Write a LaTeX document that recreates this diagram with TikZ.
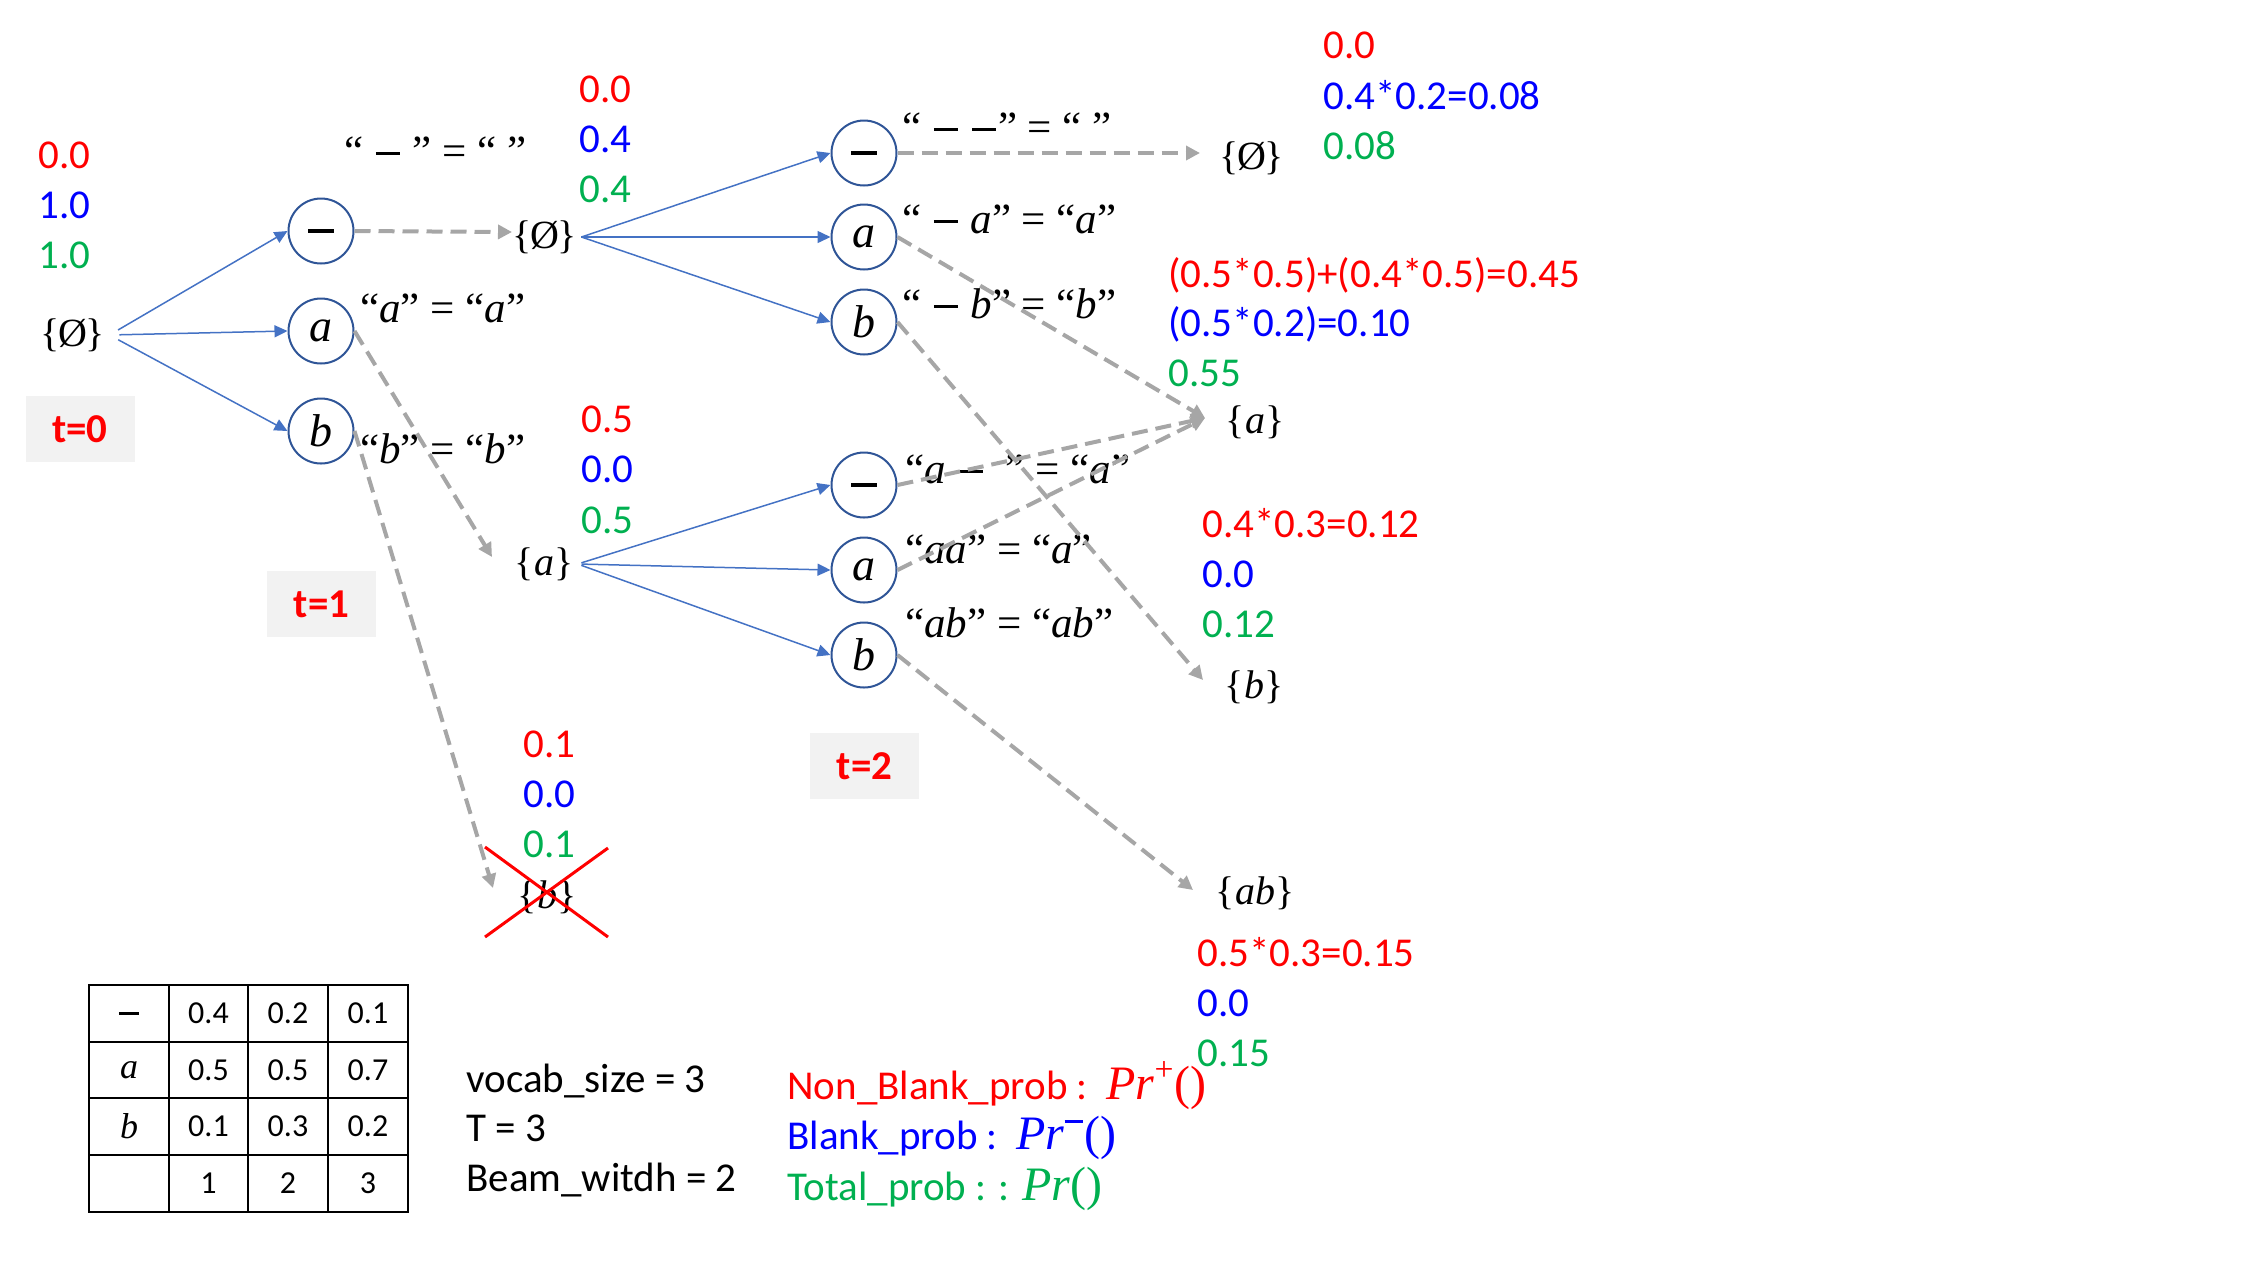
\documentclass[tikz,border=0pt]{standalone}
\usepackage{fontspec}
\newfontfamily\calib{Carlito}
\newfontfamily\tms{Liberation Serif}
\usetikzlibrary{arrows.meta}
\definecolor{cred}{HTML}{FF0000}
\definecolor{cblue}{HTML}{0000FF}
\definecolor{cgreen}{HTML}{00B050}
\definecolor{edgeblue}{HTML}{4472C4}
\definecolor{circblue}{HTML}{2F5597}
\definecolor{dgray}{HTML}{A6A6A6}
\definecolor{boxgray}{HTML}{F2F2F2}
\newcommand{\mi}[1]{\textit{#1}}
% minus sign drawn as a rule: in a line of text (raised) and alone (centred)
\newcommand{\mnl}{\kern0.04em\rule[0.24em]{0.56em}{0.06em}\kern0.04em}
\newcommand{\mnc}{\rule{0.56em}{0.07em}}
\newcommand{\emset}{\{\kern-0.04em Ø\kern-0.04em\}}
\tikzset{
 sym/.style={circle, draw=circblue, line width=1pt, minimum size=32.5pt, inner sep=0pt, font=\tms\fontsize{23}{26}\selectfont},
 setn/.style={inner xsep=2pt, inner ysep=1pt, font=\tms\fontsize{20}{23}\selectfont},
 lab/.style={anchor=base west, inner sep=0pt, font=\tms\fontsize{21.5}{25}\selectfont},
 num/.style={anchor=base west, inner sep=0pt, font=\calib\fontsize{20.5}{25}\selectfont},
 tbox/.style={fill=boxgray, minimum width=54.5pt, minimum height=33pt, text=cred, font=\calib\bfseries\fontsize{20.5}{25}\selectfont},
 bedge/.style={draw=edgeblue, line width=0.75pt, -{Triangle[length=6.5pt,width=6pt]}},
 dedge/.style={draw=dgray, line width=2pt, dash pattern=on 8pt off 4pt, -{Triangle[length=7pt,width=7pt]}},
 tcell/.style={font=\calib\fontsize{16}{19}\selectfont, inner sep=0pt},
 thead/.style={font=\tms\fontsize{18}{21}\selectfont, inner sep=0pt},
 tline/.style={line width=1pt},
 leg/.style={anchor=base west, inner sep=0pt, font=\calib\fontsize{20.5}{25}\selectfont},
}
\newcommand{\prf}[1]{{\tms\fontsize{24}{26}\selectfont\textit{Pr}#1()}}
\begin{document}
\begin{tikzpicture}[x=0.5pt,y=-0.5pt]
\useasboundingbox (0,0) rectangle (2249,1265);

% ---------- t = 0 ----------
\node[num, text=cred]   (n0r) at (38,168.5) {0.0};
\node[num, text=cblue]  (n0b) at (38,218.5) {1.0};
\node[num, text=cgreen] (n0g) at (38,268.5) {1.0};
\node[setn] (r0) at (73,335) {\emset};
\node[tbox] (t0) at (80,429) {t=0};

% ---------- t = 1 ----------
\node[sym] (c1m) at (321,231) {\mnc};
\node[sym] (c1a) at (321,331) {\mi{a}};
\node[sym] (c1b) at (321,431) {\mi{b}};
\node[lab] (L1m) at (344,165) {“ \mnl\ ” = “ ”};
\node[lab] (L1a) at (360,322) {“\mi{a}” = “\mi{a}”};
\node[lab] (L1b) at (360,463) {“\mi{b}” = “\mi{b}”};
\node[tbox] (t1) at (321.5,604) {t=1};

\node[setn] (s1e) at (545,237) {\emset};
\node[num, text=cred]   (n1r) at (579,102.5) {0.0};
\node[num, text=cblue]  (n1b) at (579,152.5) {0.4};
\node[num, text=cgreen] (n1g) at (579,202.5) {0.4};

\node[setn] (s1a) at (544,564) {\{\mi{a}\}};
\node[num, text=cred]   (n2r) at (581,432.5) {0.5};
\node[num, text=cblue]  (n2b) at (581,482.5) {0.0};
\node[num, text=cgreen] (n2g) at (581,533.5) {0.5};

\node[setn] (s1b) at (547,897) {\{\mi{b}\}};
\node[num, text=cred]   (n3r) at (523,757.5) {0.1};
\node[num, text=cblue]  (n3b) at (523,807.5) {0.0};
\node[num, text=cgreen] (n3g) at (523,857.5) {0.1};
\draw[cred, line width=1.5pt] (485,847) -- (608,937) (608,848) -- (485,937);

% ---------- t = 2 ----------
\node[sym] (c2m) at (864,153) {\mnc};
\node[sym] (c2a) at (864,237) {\mi{a}};
\node[sym] (c2b) at (864,322) {\mi{b}};
\node[sym] (c2m2) at (864,485) {\mnc};
\node[sym] (c2a2) at (864,570) {\mi{a}};
\node[sym] (c2b2) at (864,655) {\mi{b}};
\node[lab] (L2m) at (902,141) {“ \mnl\ \mnl” = “ ”};
\node[lab] (L2a) at (902,233) {“ \mnl\ \mi{a}” = “\mi{a}”};
\node[lab] (L2b) at (902,318) {“ \mnl\ \mi{b}” = “\mi{b}”};
\node[lab] (L2m2) at (905,483) {“\mi{a} \mnl\ \ ” = “\mi{a}”};
\node[lab] (L2a2) at (905,563) {“\mi{aa}” = “\mi{a}”};
\node[lab] (L2b2) at (905,637) {“\mi{ab}” = “\mi{ab}”};
\node[tbox] (t2) at (864.5,766) {t=2};

\node[setn] (s2e) at (1252,158) {\emset};
\node[num, text=cred]   (m1r) at (1323,58.5) {0.0};
\node[num, text=cblue]  (m1b) at (1323,109) {0.4*0.2=0.08};
\node[num, text=cgreen] (m1g) at (1323,159.5) {0.08};

\node[setn] (s2a) at (1255,422) {\{\mi{a}\}};
\node[num, text=cred]   (m2r) at (1168,287) {(0.5*0.5)+(0.4*0.5)=0.45};
\node[num, text=cblue]  (m2b) at (1168,336) {(0.5*0.2)=0.10};
\node[num, text=cgreen] (m2g) at (1168,386) {0.55};

\node[setn] (s2b) at (1254,687) {\{\mi{b}\}};
\node[num, text=cred]   (m3r) at (1202,537) {0.4*0.3=0.12};
\node[num, text=cblue]  (m3b) at (1202,587) {0.0};
\node[num, text=cgreen] (m3g) at (1202,637) {0.12};

\node[setn] (s2ab) at (1255,893) {\{\mi{ab}\}};
\node[num, text=cred]   (m4r) at (1197,966) {0.5*0.3=0.15};
\node[num, text=cblue]  (m4b) at (1197,1016) {0.0};
\node[num, text=cgreen] (m4g) at (1197,1066) {0.15};

% ---------- blue edges ----------
\draw[bedge, shorten <=5pt] (r0.east) -- (c1m.west);
\draw[bedge, shorten <=5pt] (r0.east) -- (c1a.west);
\draw[bedge, shorten <=5pt] (r0.east) -- (c1b.west);
\draw[bedge] (s1e.east) -- (c2m.west);
\draw[bedge] (s1e.east) -- (c2a.west);
\draw[bedge] (s1e.east) -- (c2b.west);
\draw[bedge, shorten <=2pt] (s1a.east) -- (c2m2.west);
\draw[bedge, shorten <=2pt] (s1a.east) -- (c2a2.west);
\draw[bedge, shorten <=2pt] (s1a.east) -- (c2b2.west);

% ---------- dashed edges ----------
\draw[dedge] (c1m.east) -- ([xshift=-16.5pt,yshift=2.5pt]s1e.center);
\draw[dedge] (c1a.east) -- ([xshift=-26pt,yshift=3.5pt]s1a.center);
\draw[dedge] (c1b.east) -- ([xshift=-27pt,yshift=4.5pt]s1b.center);
\draw[dedge] (c2m.east) -- ([xshift=-26pt,yshift=2.5pt]s2e.center);
\draw[dedge] (c2a.east) -- ([xshift=-25pt,yshift=2pt]s2a.center);
\draw[dedge] (c2m2.east) -- ([xshift=-25pt,yshift=2pt]s2a.center);
\draw[dedge] (c2a2.east) -- ([xshift=-25pt,yshift=2pt]s2a.center);
\draw[dedge] (c2b.east) -- ([xshift=-25.5pt,yshift=3.5pt]s2b.center);
\draw[dedge] (c2b2.east) -- ([xshift=-31pt,yshift=1.5pt]s2ab.center);

% ---------- table ----------
\draw[tline] (89,985) rectangle (408,1212);
\foreach \xx in {169,248,328} \draw[tline] (\xx,985) -- (\xx,1212);
\foreach \yy in {1042,1098,1155} \draw[tline] (89,\yy) -- (408,\yy);
\node[thead] (k00) at (129,1013.5) {\mnc};
\node[tcell] (k01) at (208.5,1013.5) {0.4};
\node[tcell] (k02) at (288,1013.5) {0.2};
\node[tcell] (k03) at (368,1013.5) {0.1};
\node[thead] (k10) at (129,1070) {\mi{a}};
\node[tcell] (k11) at (208.5,1070) {0.5};
\node[tcell] (k12) at (288,1070) {0.5};
\node[tcell] (k13) at (368,1070) {0.7};
\node[thead] (k20) at (129,1126.5) {\mi{b}};
\node[tcell] (k21) at (208.5,1126.5) {0.1};
\node[tcell] (k22) at (288,1126.5) {0.3};
\node[tcell] (k23) at (368,1126.5) {0.2};
\node[tcell] (k31) at (208.5,1183.5) {1};
\node[tcell] (k32) at (288,1183.5) {2};
\node[tcell] (k33) at (368,1183.5) {3};

% ---------- parameters / legend ----------
\node[leg] (v1) at (466,1092) {vocab\_size = 3};
\node[leg] (v2) at (466,1141) {T = 3};
\node[leg] (v3) at (466,1191) {Beam\_witdh = 2};
\node[leg, text=cred]   (g1) at (787,1099) {Non\_Blank\_prob :\ \ \prf{\textsuperscript{+}}};
\node[leg, text=cblue]  (g2) at (787,1149) {Blank\_prob :\ \ \prf{\textsuperscript{\rule[0.25em]{0.56em}{0.07em}}}};
\node[leg, text=cgreen] (g3) at (787,1200) {Total\_prob : : \prf{}};
\end{tikzpicture}
\end{document}
